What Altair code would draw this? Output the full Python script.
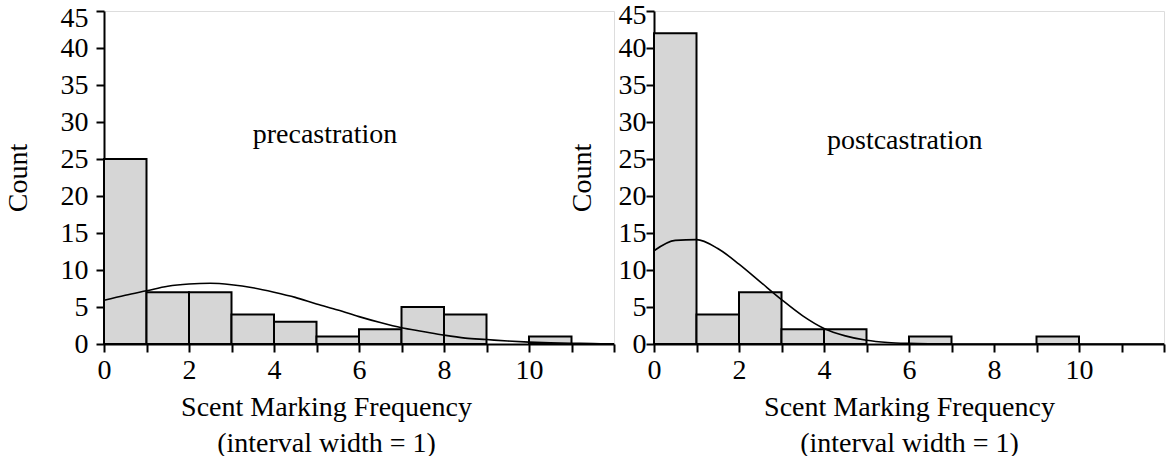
import altair as alt
import pandas as pd

# ---- data ----
bin_start = list(range(12))
bin_end = [b + 1 for b in bin_start]
pre_counts = [25, 7, 7, 4, 3, 1, 2, 5, 4, 0, 1, 0]
post_counts = [42, 4, 7, 2, 2, 0, 1, 0, 0, 1, 0, 0]

curve_x = [0, 0.5, 1, 1.5, 2, 2.5, 3, 3.5, 4, 4.5, 5, 5.5, 6, 6.5, 7, 7.5, 8, 8.5, 9, 9.5, 10, 10.5, 11, 11.5, 12]
pre_curve = [5.9, 6.6, 7.2, 7.8, 8.1, 8.2, 8.0, 7.6, 7.0, 6.3, 5.4, 4.6, 3.7, 2.9, 2.2, 1.7, 1.2, 0.8, 0.6, 0.4, 0.25, 0.15, 0.1, 0.05, 0.03]
post_curve = [12.6, 14.0, 14.1, 12.9, 10.8, 8.4, 6.0, 3.8, 2.1, 1.1, 0.5, 0.2, 0.08, 0.03, 0.01, 0, 0, 0, 0, 0, 0, 0, 0, 0, 0]

x_ticks = list(range(13))
y_ticks = list(range(0, 46, 5))
x_title = ["Scent Marking Frequency", "(interval width = 1)"]
y_title = "Count"
labels = ["precastration", "postcastration"]
label_x = [5.2, 5.9]
label_y = [28.2, 27.5]

FONT = "Liberation Serif"
FS = 28
W, H = 510, 333


def panel(counts, curve, label, lx, ly, x_title_x, y_label_pad, y_title_pad, top_shift):
    bars = pd.DataFrame({"start": bin_start, "end": bin_end, "count": counts})
    bars = bars[bars["count"] > 0]
    curve_df = pd.DataFrame({"x": curve_x, "y": curve})
    text_df = pd.DataFrame({"x": [lx], "y": [ly], "t": [label]})

    xscale = alt.Scale(domain=[0, 12], nice=False, zero=False)
    yscale = alt.Scale(domain=[0, 45], nice=False)

    xaxis_kw = dict(
        values=x_ticks,
        labelExpr="datum.value % 2 == 0 && datum.value <= 10 ? datum.label : ''",
        title=x_title,
        grid=False, domainColor="black", domainWidth=2, tickColor="black",
        tickWidth=2, tickSize=8, labelFont=FONT, labelFontSize=FS,
        labelColor="black", titleFont=FONT, titleFontSize=FS,
        titleFontWeight="normal", titleColor="black", titleLineHeight=36,
        labelFlush=False, labelOverlap=False, labelPadding=4, titlePadding=9,
    )
    if x_title_x is not None:
        xaxis_kw["titleX"] = x_title_x
        xaxis_kw["titleAlign"] = "center"
    xaxis = alt.Axis(**xaxis_kw)
    yaxis = alt.Axis(
        values=y_ticks, title=y_title, grid=False, domainColor="black",
        domainWidth=2, tickColor="black", tickWidth=2, tickSize=8,
        labelFont=FONT, labelFontSize=FS, labelColor="black",
        titleFont=FONT, titleFontSize=FS, titleFontWeight="normal",
        titleColor="black", labelPadding=y_label_pad, titlePadding=y_title_pad,
        labelFlush=False, labelOverlap=False,
        labelOffset={"condition": {"test": "datum.value == 45", "value": top_shift}, "value": 0},
    )

    b = alt.Chart(bars).mark_rect(fill="#d6d6d6", stroke="black", strokeWidth=2).encode(
        x=alt.X("start:Q", scale=xscale, axis=xaxis),
        x2="end:Q",
        y=alt.Y("count:Q", scale=yscale, axis=yaxis),
        y2=alt.datum(0),
    )
    c = alt.Chart(curve_df).mark_line(color="black", strokeWidth=1.6, interpolate="monotone").encode(
        x=alt.X("x:Q", scale=xscale, axis=xaxis),
        y=alt.Y("y:Q", scale=yscale, axis=yaxis),
    )
    t = alt.Chart(text_df).mark_text(font=FONT, fontSize=FS, color="black", align="center", baseline="middle").encode(
        x=alt.X("x:Q", scale=xscale, axis=xaxis),
        y=alt.Y("y:Q", scale=yscale, axis=yaxis),
        text="t:N",
    )
    return alt.layer(b, c, t).properties(width=W, height=H)


left = panel(pre_counts, pre_curve, labels[0], label_x[0], label_y[0], 222, 8, 28, 7)
right = panel(post_counts, post_curve, labels[1], label_x[1], label_y[1], None, 0, 22, 4)

chart = alt.hconcat(left, right, spacing=40, bounds="flush").properties(
    padding={"left": 3, "top": 0, "right": 0, "bottom": 0}
).configure_view(strokeWidth=0).configure(background="white")

chart.save("out.html", embed_options={"renderer": "svg", "actions": False})
